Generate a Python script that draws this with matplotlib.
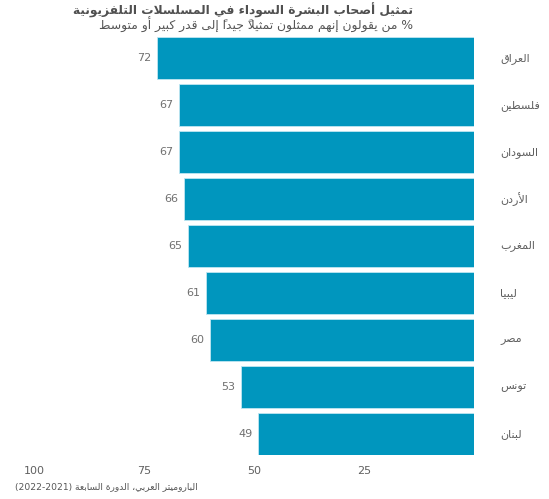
import matplotlib
matplotlib.use("Agg")
import matplotlib.pyplot as plt

# ---------------- data ----------------
countries = ["العراق", "فلسطين", "السودان", "الأردن", "المغرب", "ليبيا", "مصر", "تونس", "لبنان"]
values = [72, 67, 67, 66, 65, 61, 60, 53, 49]
xticks = [100, 75, 50, 25]
title = "تمثيل أصحاب البشرة السوداء في المسلسلات التلفزيونية"
subtitle = "% من يقولون إنهم ممثلون تمثيلاً جيداً إلى قدر كبير أو متوسط"
source = "الباروميتر العربي، الدورة السابعة (2021-2022)"

# ---------------- minimal Arabic shaping + bidi ----------------
FORMS = {
    '\u0621': (0xFE80, None, None, None),
    '\u0622': (0xFE81, 0xFE82, None, None),
    '\u0623': (0xFE83, 0xFE84, None, None),
    '\u0624': (0xFE85, 0xFE86, None, None),
    '\u0625': (0xFE87, 0xFE88, None, None),
    '\u0626': (0xFE89, 0xFE8A, 0xFE8B, 0xFE8C),
    '\u0627': (0xFE8D, 0xFE8E, None, None),
    '\u0628': (0xFE8F, 0xFE90, 0xFE91, 0xFE92),
    '\u0629': (0xFE93, 0xFE94, None, None),
    '\u062A': (0xFE95, 0xFE96, 0xFE97, 0xFE98),
    '\u062B': (0xFE99, 0xFE9A, 0xFE9B, 0xFE9C),
    '\u062C': (0xFE9D, 0xFE9E, 0xFE9F, 0xFEA0),
    '\u062D': (0xFEA1, 0xFEA2, 0xFEA3, 0xFEA4),
    '\u062E': (0xFEA5, 0xFEA6, 0xFEA7, 0xFEA8),
    '\u062F': (0xFEA9, 0xFEAA, None, None),
    '\u0630': (0xFEAB, 0xFEAC, None, None),
    '\u0631': (0xFEAD, 0xFEAE, None, None),
    '\u0632': (0xFEAF, 0xFEB0, None, None),
    '\u0633': (0xFEB1, 0xFEB2, 0xFEB3, 0xFEB4),
    '\u0634': (0xFEB5, 0xFEB6, 0xFEB7, 0xFEB8),
    '\u0635': (0xFEB9, 0xFEBA, 0xFEBB, 0xFEBC),
    '\u0636': (0xFEBD, 0xFEBE, 0xFEBF, 0xFEC0),
    '\u0637': (0xFEC1, 0xFEC2, 0xFEC3, 0xFEC4),
    '\u0638': (0xFEC5, 0xFEC6, 0xFEC7, 0xFEC8),
    '\u0639': (0xFEC9, 0xFECA, 0xFECB, 0xFECC),
    '\u063A': (0xFECD, 0xFECE, 0xFECF, 0xFED0),
    '\u0641': (0xFED1, 0xFED2, 0xFED3, 0xFED4),
    '\u0642': (0xFED5, 0xFED6, 0xFED7, 0xFED8),
    '\u0643': (0xFED9, 0xFEDA, 0xFEDB, 0xFEDC),
    '\u0644': (0xFEDD, 0xFEDE, 0xFEDF, 0xFEE0),
    '\u0645': (0xFEE1, 0xFEE2, 0xFEE3, 0xFEE4),
    '\u0646': (0xFEE5, 0xFEE6, 0xFEE7, 0xFEE8),
    '\u0647': (0xFEE9, 0xFEEA, 0xFEEB, 0xFEEC),
    '\u0648': (0xFEED, 0xFEEE, None, None),
    '\u0649': (0xFEEF, 0xFEF0, None, None),
    '\u064A': (0xFEF1, 0xFEF2, 0xFEF3, 0xFEF4),
}
LAMALEF = {'\u0622': (0xFEF5, 0xFEF6), '\u0623': (0xFEF7, 0xFEF8),
           '\u0625': (0xFEF9, 0xFEFA), '\u0627': (0xFEFB, 0xFEFC)}


def is_mark(c):
    return '\u064B' <= c <= '\u0652'


def joins_next(c):  # can connect to the following letter
    return c in FORMS and FORMS[c][2] is not None


def reshape(s):
    chars = list(s)
    n = len(chars)
    out = []
    i = 0
    def prev_letter(idx):
        j = idx - 1
        while j >= 0 and is_mark(chars[j]):
            j -= 1
        return chars[j] if j >= 0 else None
    def next_letter(idx):
        j = idx + 1
        while j < n and is_mark(chars[j]):
            j += 1
        return (chars[j], j) if j < n else (None, None)
    while i < n:
        c = chars[i]
        if c not in FORMS:
            out.append(c)
            i += 1
            continue
        p = prev_letter(i)
        jp = p is not None and joins_next(p)
        nx, nj = next_letter(i)
        if c == '\u0644' and nx in LAMALEF:
            f = LAMALEF[nx][1 if jp else 0]
            out.append(chr(f))
            for k in range(i + 1, nj):
                out.append(chars[k])
            i = nj + 1
            continue
        jn = joins_next(c) and nx is not None and nx in FORMS
        iso, fin, ini, med = FORMS[c]
        if jp and jn and med:
            f = med
        elif jp and fin:
            f = fin
        elif jn and ini:
            f = ini
        else:
            f = iso
        out.append(chr(f))
        i += 1
    return ''.join(out)


MIRROR = {'(': ')', ')': '('}


def ar(s):
    s = reshape(s)
    tokens = []
    cur = ''
    cur_digit = None
    for c in s:
        d = c.isdigit() and ord(c) < 128
        if cur and d != cur_digit:
            tokens.append((cur, cur_digit))
            cur = ''
        cur += c
        cur_digit = d
    if cur:
        tokens.append((cur, cur_digit))
    res = []
    for t, d in reversed(tokens):
        if d:
            res.append(t)
        else:
            res.append(''.join(MIRROR.get(ch, ch) for ch in reversed(t)))
    return ''.join(res)


# ---------------- plot ----------------
plt.rcParams['font.family'] = ['DejaVu Sans']
W, H = 549, 499
fig = plt.figure(figsize=(W / 100, H / 100), dpi=100)
ax = fig.add_axes([34 / W, 1 - 455 / H, (474 - 34) / W, (455 - 37) / H])

bar_color = '#0096BE'
ypos = list(range(len(countries)))
ax.barh(ypos, values, height=0.9, color=bar_color, edgecolor='#bfe6f2', linewidth=0.6)
ax.set_xlim(100, 0)
ax.set_ylim(len(countries) - 0.55, -0.45)

for y, v, c in zip(ypos, values, countries):
    ax.annotate(str(v), xy=(v, y), xytext=(-4, 0), textcoords='offset points',
                ha='right', va='center', fontsize=8, color='#707070')
    ax.annotate(ar(c), xy=(0, y), xytext=(19, 0), textcoords='offset points',
                ha='left', va='center', fontsize=8, color='#606060')

ax.set_xticks(xticks)
ax.set_xticklabels([str(t) for t in xticks], fontsize=8, color='#606060')
ax.tick_params(axis='x', length=0, pad=8)
ax.set_yticks([])
for sp in ax.spines.values():
    sp.set_visible(False)

fig.text(413 / W, 1 - 10 / H, ar(title), ha='right', va='center', fontsize=8.8,
         fontweight='bold', color='#505050')
fig.text(413 / W, 1 - 25 / H, ar(subtitle), ha='right', va='center', fontsize=8.9,
         color='#555555')
fig.text(198 / W, 1 - 487 / H, ar(source), ha='right', va='center', fontsize=6.6,
         color='#555555')

fig.savefig('out.png', dpi=100)
